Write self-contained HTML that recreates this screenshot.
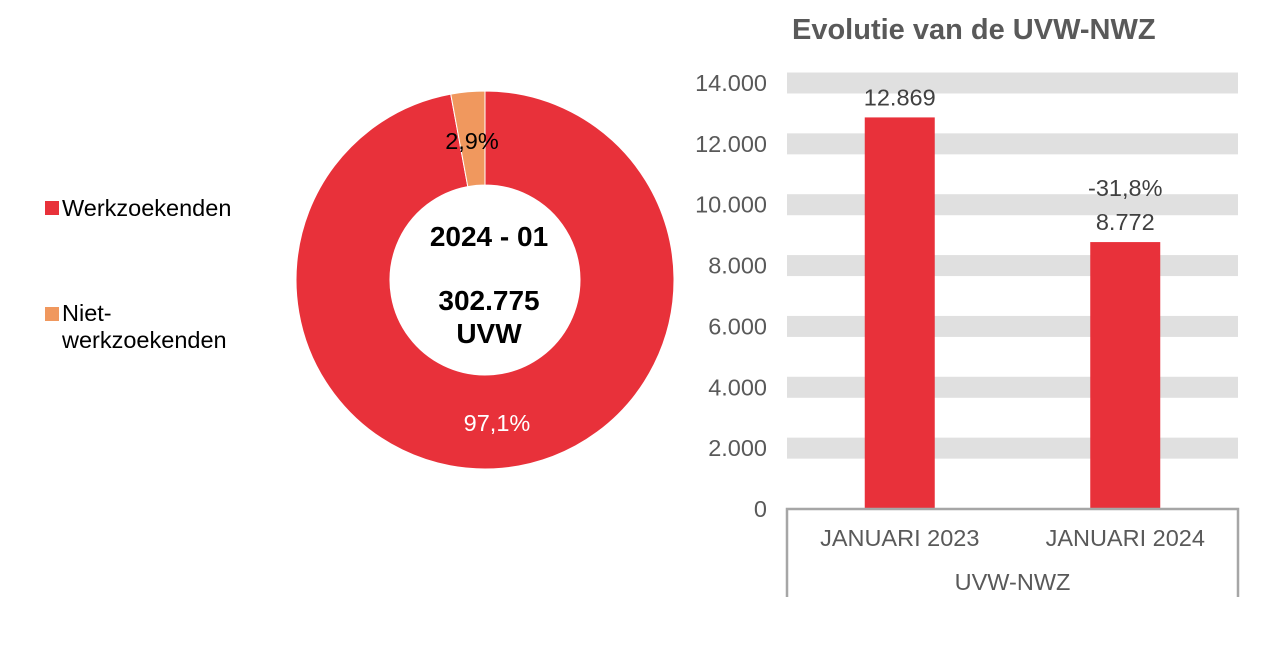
<!DOCTYPE html>
<html><head><meta charset="utf-8"><style>
body{margin:0;background:#fff;width:1287px;height:642px;overflow:hidden;font-family:"Liberation Sans",Arial,sans-serif}
</style></head><body>
<svg width="1287" height="642" viewBox="0 0 1287 642">
<g id="donut"></g>
<g>
<rect x="45" y="201" width="14" height="14" fill="#E8313A"/>
<text x="62" y="216" font-size="23.5" fill="#000">Werkzoekenden</text>
<rect x="45" y="307" width="14" height="14" fill="#F0985E"/>
<text x="62" y="321" font-size="23.5" fill="#000">Niet-</text>
<text x="62" y="348" font-size="23.5" fill="#000">werkzoekenden</text>
</g>
<g font-weight="bold" font-size="28" text-anchor="middle" fill="#000">
<text x="489" y="246">2024 - 01</text>
<text x="489" y="310">302.775</text>
<text x="489" y="343">UVW</text>
</g>
<text x="792" y="39" font-size="29" font-weight="bold" fill="#595959">Evolutie van de UVW-NWZ</text>
<g id="bars"></g>
</svg>
<script>
const NS='http://www.w3.org/2000/svg';
function mk(p,t,a){const e=document.createElementNS(NS,t);for(const k in a)e.setAttribute(k,a[k]);p.appendChild(e);return e;}
const sliceNames=['werkzoekenden','niet-werkzoekenden'];
const sliceValues=[97.1,2.9];
const sliceLabels=['97,1%','2,9%'];
const sliceColors=['#E8313A','#F0985E'];
const dg=document.getElementById('donut');
const cx=485,cy=280,R=189,r=95;
const total=sliceValues.reduce((a,b)=>a+b,0);
let ang=-Math.PI/2;
sliceValues.forEach((v,i)=>{
  const a0=ang,a1=ang+2*Math.PI*v/total;ang=a1;
  const big=(a1-a0)>Math.PI?1:0;
  const p=(rr,a)=>[cx+rr*Math.cos(a),cy+rr*Math.sin(a)];
  const [x0,y0]=p(R,a0),[x1,y1]=p(R,a1),[x2,y2]=p(r,a1),[x3,y3]=p(r,a0);
  const s=mk(dg,'path',{d:`M${x0},${y0}A${R},${R} 0 ${big} 1 ${x1},${y1}L${x2},${y2}A${r},${r} 0 ${big} 0 ${x3},${y3}Z`,fill:sliceColors[i],stroke:'#fff','stroke-width':1});
  
  
});
const l1=mk(dg,'text',{x:497,y:431,'font-size':23.5,fill:'#fff','text-anchor':'middle'});l1.textContent=sliceLabels[0];


const l2=mk(dg,'text',{x:472,y:149,'font-size':23.5,fill:'#000','text-anchor':'middle'});l2.textContent=sliceLabels[1];


const categories=['JANUARI 2023','JANUARI 2024'];
const barValues=[12869,8772];
const valueLabels=['12.869','8.772'];
const changeLabels=['','-31,8%'];
const yTicks=[0,2000,4000,6000,8000,10000,12000,14000];
const yTickLabels=['0','2.000','4.000','6.000','8.000','10.000','12.000','14.000'];
const bg=document.getElementById('bars');
const x0=787,x1=1238,y0=509,yMax=14000,yTop=83;
const ys=v=>y0-(v/yMax)*(y0-yTop);
yTicks.forEach((t,i)=>{
  if(t>0){const b=mk(bg,'rect',{x:x0,y:ys(t)-10.5,width:x1-x0,height:21,fill:'#E0E0E0'});
  
  }
  const tl=mk(bg,'text',{x:767,y:ys(t)+8,'font-size':23.5,fill:'#595959','text-anchor':'end'});tl.textContent=yTickLabels[i];
  
  
});
const bw=(x1-x0)/categories.length;
categories.forEach((c,i)=>{
  const cxp=x0+bw*(i+0.5);
  const b=mk(bg,'rect',{x:cxp-35,y:ys(barValues[i]),width:70,height:y0-ys(barValues[i]),fill:'#E8313A'});
  
  
  const vl=mk(bg,'text',{x:cxp,y:ys(barValues[i])-12,'font-size':23.5,fill:'#404040','text-anchor':'middle'});vl.textContent=valueLabels[i];
  
  
  if(changeLabels[i]){const ch=mk(bg,'text',{x:cxp,y:ys(barValues[i])-46,'font-size':23.5,fill:'#404040','text-anchor':'middle'});ch.textContent=changeLabels[i];
  
  }
  const cl=mk(bg,'text',{x:cxp,y:546,'font-size':23.5,fill:'#595959','text-anchor':'middle'});cl.textContent=c;
  
  
});
const g=mk(bg,'text',{x:(x0+x1)/2,y:590,'font-size':23.5,fill:'#595959','text-anchor':'middle'});g.textContent='UVW-NWZ';


const ax=mk(bg,'path',{d:`M${x0},597V${y0}H${x1}V597`,fill:'none',stroke:'#A6A6A6','stroke-width':2.5});


</script>
</body></html>
